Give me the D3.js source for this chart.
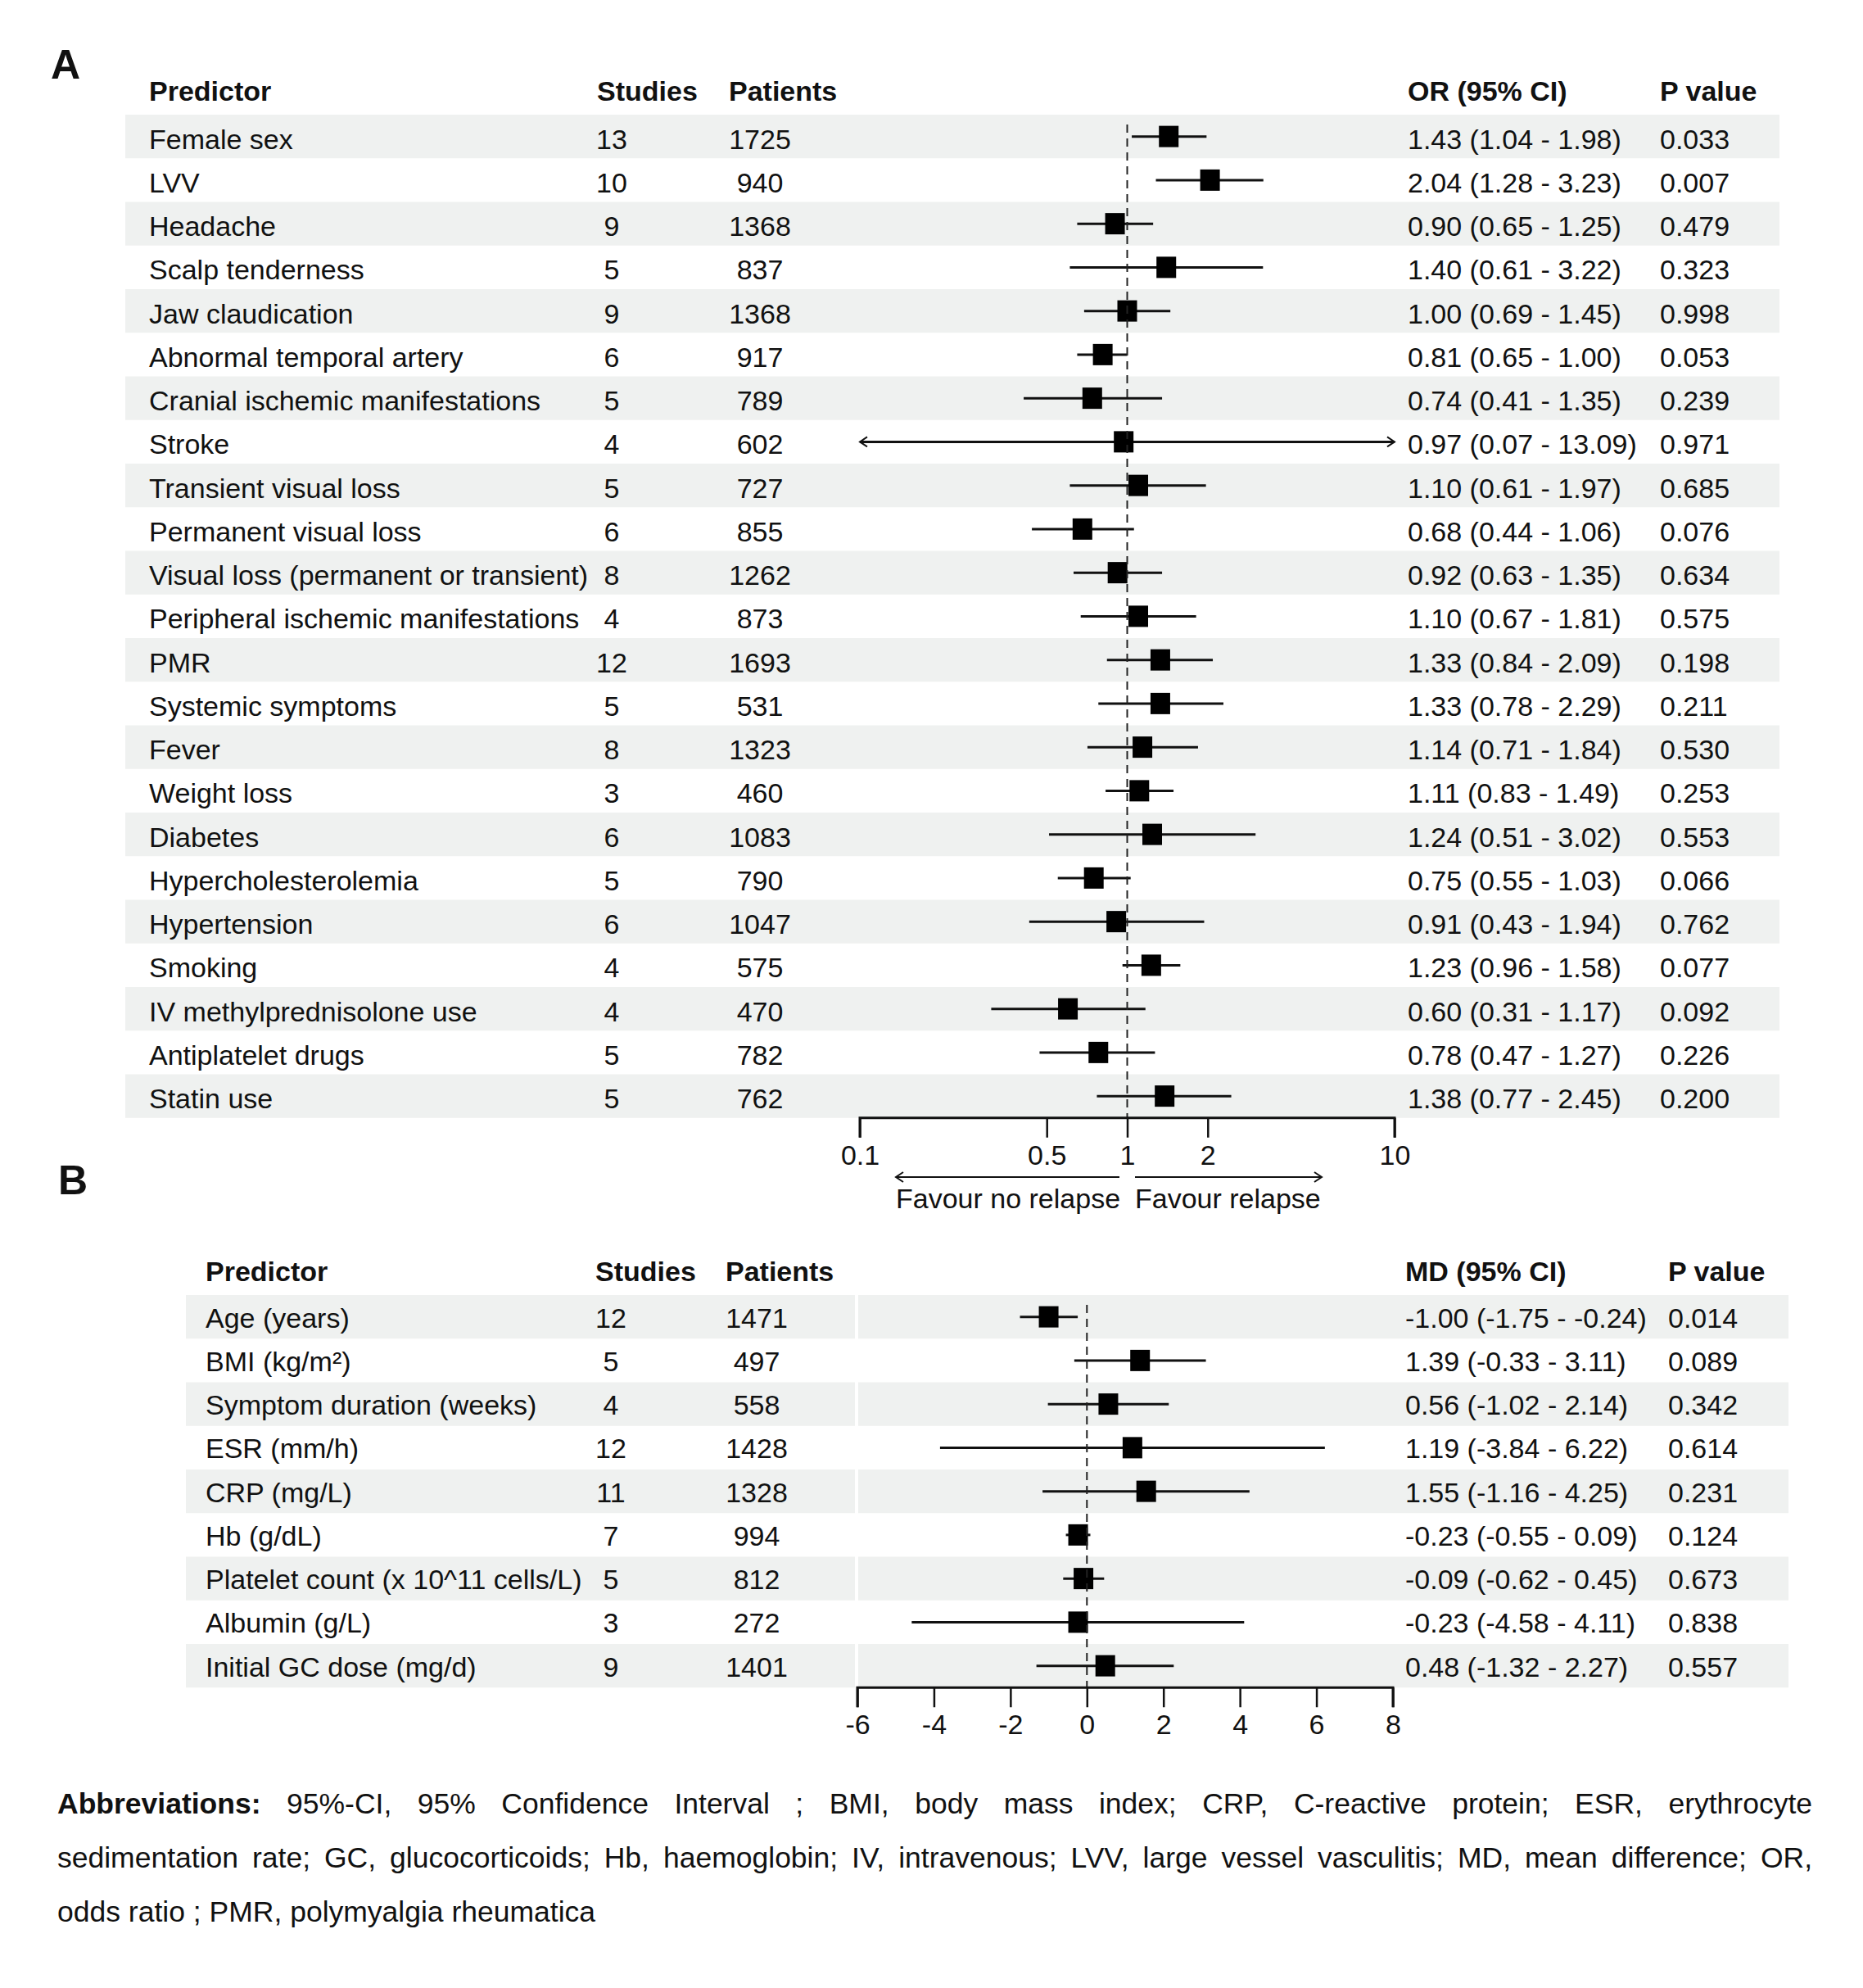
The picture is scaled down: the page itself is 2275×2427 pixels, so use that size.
<!DOCTYPE html>
<html>
<head>
<meta charset="utf-8">
<script src="https://cdn.jsdelivr.net/npm/d3@7"></script>
<style>
  body { margin: 0; background: #fff; }
  text { font-family: "Liberation Sans", Arial, sans-serif; fill: #111; }
</style>
</head>
<body>
<script>
// panel A - odds ratios
var orPred = ["Female sex", "LVV", "Headache", "Scalp tenderness", "Jaw claudication",
  "Abnormal temporal artery", "Cranial ischemic manifestations", "Stroke",
  "Transient visual loss", "Permanent visual loss", "Visual loss (permanent or transient)",
  "Peripheral ischemic manifestations", "PMR", "Systemic symptoms", "Fever", "Weight loss",
  "Diabetes", "Hypercholesterolemia", "Hypertension", "Smoking", "IV methylprednisolone use",
  "Antiplatelet drugs", "Statin use"];
var orStudies = [13, 10, 9, 5, 9, 6, 5, 4, 5, 6, 8, 4, 12, 5, 8, 3, 6, 5, 6, 4, 4, 5, 5];
var orPatients = [1725, 940, 1368, 837, 1368, 917, 789, 602, 727, 855, 1262, 873, 1693, 531, 1323, 460, 1083, 790, 1047, 575, 470, 782, 762];
var orEst = [1.43, 2.04, 0.90, 1.40, 1.00, 0.81, 0.74, 0.97, 1.10, 0.68, 0.92, 1.10, 1.33, 1.33, 1.14, 1.11, 1.24, 0.75, 0.91, 1.23, 0.60, 0.78, 1.38];
var orLo = [1.04, 1.28, 0.65, 0.61, 0.69, 0.65, 0.41, 0.07, 0.61, 0.44, 0.63, 0.67, 0.84, 0.78, 0.71, 0.83, 0.51, 0.55, 0.43, 0.96, 0.31, 0.47, 0.77];
var orHi = [1.98, 3.23, 1.25, 3.22, 1.45, 1.00, 1.35, 13.09, 1.97, 1.06, 1.35, 1.81, 2.09, 2.29, 1.84, 1.49, 3.02, 1.03, 1.94, 1.58, 1.17, 1.27, 2.45];
var orP = [0.033, 0.007, 0.479, 0.323, 0.998, 0.053, 0.239, 0.971, 0.685, 0.076, 0.634, 0.575, 0.198, 0.211, 0.530, 0.253, 0.553, 0.066, 0.762, 0.077, 0.092, 0.226, 0.200];
var orTicks = [0.1, 0.5, 1, 2, 10];

// panel B - mean differences
var mdPred = ["Age (years)", "BMI (kg/m²)", "Symptom duration (weeks)", "ESR (mm/h)", "CRP (mg/L)",
  "Hb (g/dL)", "Platelet count (x 10^11 cells/L)", "Albumin (g/L)", "Initial GC dose (mg/d)"];
var mdStudies = [12, 5, 4, 12, 11, 7, 5, 3, 9];
var mdPatients = [1471, 497, 558, 1428, 1328, 994, 812, 272, 1401];
var mdEst = [-1.00, 1.39, 0.56, 1.19, 1.55, -0.23, -0.09, -0.23, 0.48];
var mdLo = [-1.75, -0.33, -1.02, -3.84, -1.16, -0.55, -0.62, -4.58, -1.32];
var mdHi = [-0.24, 3.11, 2.14, 6.22, 4.25, 0.09, 0.45, 4.11, 2.27];
var mdP = [0.014, 0.089, 0.342, 0.614, 0.231, 0.124, 0.673, 0.838, 0.557];
var mdTicks = [-6, -4, -2, 0, 2, 4, 6, 8];

var abbrevLines = [
  ["Abbreviations:", "95%-CI, 95% Confidence Interval ; BMI, body mass index; CRP, C-reactive protein; ESR, erythrocyte"],
  ["", "sedimentation rate; GC, glucocorticoids; Hb, haemoglobin; IV, intravenous; LVV, large vessel vasculitis; MD, mean difference; OR,"],
  ["", "odds ratio ; PMR, polymyalgia rheumatica"]
];

var W = 2275, H = 2427;
var FS = 34;
// plain hyphen minus like the original, not d3's unicode minus
var f2 = function(v) { return v.toFixed(2); };
var f3 = function(v) { return v.toFixed(3); };

var svg = d3.select("body").append("svg")
  .attr("width", W).attr("height", H);

var defs = svg.append("defs");
["arrEnd", "arrStart"].forEach(function(id, i) {
  defs.append("marker").attr("id", id)
    .attr("viewBox", "-12 -7 14 14").attr("markerWidth", 14).attr("markerHeight", 14)
    .attr("markerUnits", "userSpaceOnUse").attr("refX", 0).attr("refY", 0)
    .attr("orient", i == 0 ? "auto" : "auto-start-reverse")
    .append("path").attr("d", "M-9,-6 L0,0 L-9,6").attr("fill", "none")
    .attr("stroke", "#111").attr("stroke-width", 2);
});

function panel(cfg) {
  var g = svg.append("g");
  var n = cfg.pred.length;
  var rowY = function(i) { return cfg.top + cfg.rh * i; };

  // stripes
  cfg.stripes.forEach(function(s) {
    g.selectAll(null).data(d3.range(0, n, 2)).enter().append("rect")
      .attr("x", s[0]).attr("width", s[1] - s[0])
      .attr("y", rowY).attr("height", cfg.rh)
      .attr("fill", "#eff1f0");
  });

  // panel letter
  g.append("text").attr("x", cfg.letterX).attr("y", cfg.letterY)
    .attr("font-size", 50).attr("font-weight", "bold").text(cfg.letter);

  // headers
  var hdr = [[cfg.colPred, "Predictor"], [cfg.colStudH, "Studies"], [cfg.colPatH, "Patients"],
    [cfg.colEst, cfg.estHead], [cfg.colP, "P value"]];
  g.selectAll(null).data(hdr).enter().append("text")
    .attr("x", function(d) { return d[0]; }).attr("y", cfg.headY).attr("dy", "0.35em")
    .attr("font-size", FS).attr("font-weight", "bold")
    .text(function(d) { return d[1]; });

  var rows = g.selectAll(null).data(d3.range(n)).enter().append("g")
    .attr("transform", function(i) { return "translate(0," + (rowY(i) + cfg.rh / 2) + ")"; });
  var tx = function(sel) {
    return sel.append("text").attr("y", cfg.textShift).attr("dy", "0.35em").attr("font-size", FS);
  };
  tx(rows).attr("x", cfg.colPred).text(function(i) { return cfg.pred[i]; });
  tx(rows).attr("x", cfg.colStud).attr("text-anchor", "middle").text(function(i) { return cfg.studies[i]; });
  tx(rows).attr("x", cfg.colPat).attr("text-anchor", "middle").text(function(i) { return cfg.patients[i]; });
  tx(rows).attr("x", cfg.colEst)
    .text(function(i) { return f2(cfg.est[i]) + " (" + f2(cfg.lo[i]) + " - " + f2(cfg.hi[i]) + ")"; });
  tx(rows).attr("x", cfg.colP).text(function(i) { return f3(cfg.p[i]); });

  // reference line
  var x = cfg.x, dom = x.domain();
  var axisY = rowY(n);
  g.append("line").attr("x1", x(cfg.ref)).attr("x2", x(cfg.ref))
    .attr("y1", cfg.top + 12).attr("y2", axisY)
    .attr("stroke", "#222").attr("stroke-width", 2).attr("stroke-dasharray", "10,7");

  // CI lines + boxes
  rows.append("line")
    .attr("x1", function(i) { return x(Math.max(cfg.lo[i], dom[0])); })
    .attr("x2", function(i) { return x(Math.min(cfg.hi[i], dom[1])); })
    .attr("stroke", "#111").attr("stroke-width", 3)
    .attr("marker-start", function(i) { return cfg.lo[i] < dom[0] ? "url(#arrStart)" : null; })
    .attr("marker-end", function(i) { return cfg.hi[i] > dom[1] ? "url(#arrEnd)" : null; });
  rows.append("rect")
    .attr("x", function(i) { return x(cfg.est[i]) - 12; }).attr("y", -13)
    .attr("width", 24).attr("height", 26).attr("fill", "#000");

  // axis
  var ax = g.append("g").attr("transform", "translate(0," + axisY + ")")
    .call(d3.axisBottom(x).tickValues(cfg.ticks).tickSize(24).tickPadding(9)
      .tickFormat(function(d) { return String(d); }));
  ax.select(".domain").attr("d", "M" + x(dom[0]) + ",24V0H" + x(dom[1]) + "V24")
    .attr("stroke", "#111").attr("stroke-width", 3);
  ax.selectAll(".tick line").attr("stroke", "#111").attr("stroke-width", 2.5);
  ax.selectAll(".tick text").attr("font-size", FS).attr("font-family", null).attr("fill", "#111");
  return g;
}

var xA = d3.scaleLog().domain([0.1, 10]).range([1050, 1703]);
var gA = panel({
  letter: "A", letterX: 62, letterY: 96,
  pred: orPred, studies: orStudies, patients: orPatients, est: orEst, lo: orLo, hi: orHi, p: orP,
  top: 140, rh: 53.25, headY: 111, textShift: 3, stripes: [[153, 2173]],
  colPred: 182, colStudH: 729, colStud: 747, colPatH: 890, colPat: 928,
  colEst: 1719, colP: 2027, estHead: "OR (95% CI)", x: xA, ref: 1, ticks: orTicks
});

// favour arrows under panel A
var favY = 1437;
gA.append("line").attr("x1", 1367).attr("x2", 1094).attr("y1", favY).attr("y2", favY)
  .attr("stroke", "#111").attr("stroke-width", 2).attr("marker-end", "url(#arrEnd)");
gA.append("line").attr("x1", 1386).attr("x2", 1614).attr("y1", favY).attr("y2", favY)
  .attr("stroke", "#111").attr("stroke-width", 2).attr("marker-end", "url(#arrEnd)");
gA.append("text").attr("x", 1094).attr("y", 1463).attr("dy", "0.35em").attr("font-size", FS)
  .text("Favour no relapse");
gA.append("text").attr("x", 1386).attr("y", 1463).attr("dy", "0.35em").attr("font-size", FS)
  .text("Favour relapse");

var xB = d3.scaleLinear().domain([-6, 8]).range([1047, 1701]);
panel({
  letter: "B", letterX: 71, letterY: 1458,
  pred: mdPred, studies: mdStudies, patients: mdPatients, est: mdEst, lo: mdLo, hi: mdHi, p: mdP,
  top: 1581, rh: 53.25, headY: 1552, textShift: 1, stripes: [[227, 1044], [1048, 2184]],
  colPred: 251, colStudH: 727, colStud: 746, colPatH: 886, colPat: 924,
  colEst: 1716, colP: 2037, estHead: "MD (95% CI)", x: xB, ref: 0, ticks: mdTicks
});

// abbreviations, justified
var abX0 = 70, abX1 = 2213, abFS = 35.5;
var abY = [2214, 2280, 2346];
abbrevLines.forEach(function(line, li) {
  var words = [];
  if (line[0]) words.push({ t: line[0], b: true });
  line[1].split(" ").forEach(function(w) { words.push({ t: w, b: false }); });
  var tg = svg.append("g");
  var ts = tg.selectAll(null).data(words).enter().append("text")
    .attr("y", abY[li]).attr("font-size", abFS)
    .attr("font-weight", function(d) { return d.b ? "bold" : null; })
    .text(function(d) { return d.t; });
  var widths = [];
  ts.each(function() { widths.push(this.getComputedTextLength()); });
  var total = d3.sum(widths);
  var gap = li < 2 ? (abX1 - abX0 - total) / (words.length - 1) : abFS * 0.278;
  var cx = abX0;
  ts.attr("x", function(d, i) { var v = cx; cx += widths[i] + gap; return v; });
});
</script>
</body>
</html>
